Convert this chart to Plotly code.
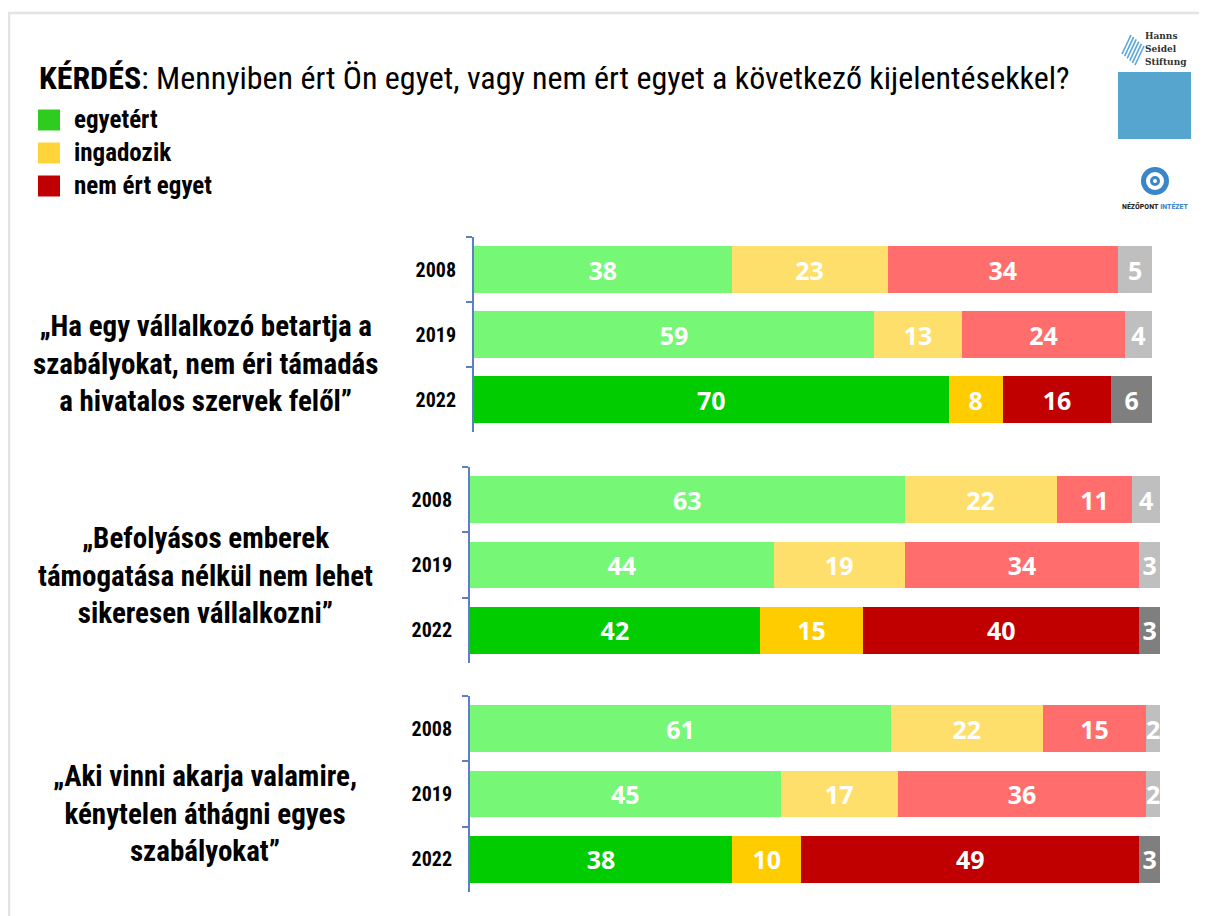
import plotly.graph_objects as go

# ---------------- data ----------------
years = ["2008", "2019", "2022"]
statements = [
    "„Ha egy vállalkozó betartja a<br>szabályokat, nem éri támadás<br>a hivatalos szervek felől”",
    "„Befolyásos emberek<br>támogatása nélkül nem lehet<br>sikeresen vállalkozni”",
    "„Aki vinni akarja valamire,<br>kénytelen áthágni egyes<br>szabályokat”",
]
agree = [[38, 59, 70], [63, 44, 42], [61, 45, 38]]
undecided = [[23, 13, 8], [22, 19, 15], [22, 17, 10]]
disagree = [[34, 24, 16], [11, 34, 40], [15, 36, 49]]
no_answer = [[5, 4, 6], [4, 3, 3], [2, 2, 3]]
legend_names = ["egyetért", "ingadozik", "nem ért egyet"]
title_bold = "KÉRDÉS"
title_rest = ": Mennyiben ért Ön egyet, vagy nem ért egyet a következő kijelentésekkel?"

# ---------------- styles ----------------
OFF = 8  # page body margin
W, H = 1207 - OFF, 916 - OFF
light = ["#76F776", "#FFDF6B", "#FF6D6D", "#BFBFBF"]
dark = ["#00CC00", "#FFCC00", "#C00000", "#7F7F7F"]
legend_colors = ["#2ECC1E", "#FFD43B", "#C00000"]
axis_blue = "#5B80C8"
NARROW = "Roboto Condensed, Liberation Sans Narrow, sans-serif"


def px(x):
    return (x - OFF) / W


def py(y):
    return 1 - (y - OFF) / H


# panel geometry in reference pixels: (x0, x1, y_top, y_bottom)
panels = [(474, 1152, 237, 432), (470, 1160, 467, 663), (470, 1160, 696, 892)]
text_centers = [364, 575, 813]

fig = go.Figure()
series = [agree, undecided, disagree, no_answer]
for p in range(3):
    axn = "" if p == 0 else str(p + 1)
    for s in range(4):
        vals = series[s][p]
        fig.add_trace(go.Bar(
            y=years, x=vals, orientation="h",
            xaxis="x" + axn, yaxis="y" + axn,
            marker=dict(color=[light[s], light[s], dark[s]], line=dict(width=0)),
            text=vals, textposition="inside", insidetextanchor="middle",
            textfont=dict(family="Open Sans", size=25, color="white", weight="bold"),
            showlegend=False, hoverinfo="skip",
        ))

layout = dict(
    width=W, height=H, barmode="stack", bargap=0.29,
    margin=dict(l=0, r=0, t=0, b=0),
    paper_bgcolor="white", plot_bgcolor="white",
    uniformtext=dict(minsize=25, mode="show"),
    showlegend=False,
)
for p, (x0, x1, yt, yb) in enumerate(panels):
    axn = "" if p == 0 else str(p + 1)
    layout["xaxis" + axn] = dict(domain=[px(x0), px(x1)], range=[0, 100], visible=False,
                                 anchor="y" + axn, fixedrange=True)
    layout["yaxis" + axn] = dict(
        domain=[py(yb), py(yt)], type="category", range=[2.5, -0.5],
        anchor="x" + axn, showline=True, linecolor=axis_blue, linewidth=2,
        ticks="outside", tickson="boundaries", ticklen=6, tickcolor=axis_blue, tickwidth=2,
        showgrid=False, zeroline=False,
        tickfont=dict(family=NARROW, size=20, color="black", weight="bold"),
        ticklabelstandoff=12,
    )
fig.update_layout(**layout)

annotations = []
shapes = []
# title
annotations.append(dict(
    x=px(37), y=py(78), xref="paper", yref="paper", xanchor="left", yanchor="middle",
    text="<b>" + title_bold + "</b>" + title_rest, showarrow=False,
    font=dict(family=NARROW, size=32, color="black"),
))
# legend
for i, (name, col) in enumerate(zip(legend_names, legend_colors)):
    yc = 120 + i * 33
    shapes.append(dict(type="rect", xref="paper", yref="paper",
                       x0=px(38), x1=px(60), y0=py(yc + 10.5), y1=py(yc - 10.5),
                       fillcolor=col, line=dict(width=0)))
    annotations.append(dict(x=px(72), y=py(yc), xref="paper", yref="paper",
                            xanchor="left", yanchor="middle", text="<b>" + name + "</b>",
                            showarrow=False, font=dict(family=NARROW, size=25, color="black")))
# statements
for p in range(3):
    annotations.append(dict(
        x=px(205), y=py(text_centers[p]), xref="paper", yref="paper",
        xanchor="center", yanchor="middle", align="center",
        text="<b>" + statements[p] + "</b>", showarrow=False,
        font=dict(family=NARROW, size=29, color="black"),
    ))

# slide frame
shapes.append(dict(type="line", xref="paper", yref="paper", x0=px(8), x1=px(1220),
                   y0=py(13), y1=py(13), line=dict(color="#E3E3E3", width=2.5)))
shapes.append(dict(type="line", xref="paper", yref="paper", x0=px(9), x1=px(9),
                   y0=py(13), y1=py(930), line=dict(color="#E3E3E3", width=2.5)))
# Hanns Seidel Stiftung logo
shapes.append(dict(type="rect", xref="paper", yref="paper", x0=px(1118), x1=px(1191),
                   y0=py(139), y1=py(72), fillcolor="#55A5CF", line=dict(width=0)))
for k in range(6):
    xs = 1122 + k * 2.6
    shapes.append(dict(type="line", xref="paper", yref="paper",
                       x0=px(xs), y0=py(54 + k * 2.2), x1=px(xs + 9), y1=py(35 + k * 2.2),
                       line=dict(color="#5AA7D6", width=1.6)))
annotations.append(dict(x=px(1143), y=py(48), xref="paper", yref="paper",
                        xanchor="left", yanchor="middle", align="left",
                        text="<b>Hanns<br>Seidel<br>Stiftung</b>", showarrow=False,
                        font=dict(family="DejaVu Serif Condensed, DejaVu Serif, serif", size=10,
                                  color="#333333")))
# Nézőpont logo
cx, cy = 1155, 181
shapes.append(dict(type="circle", xref="paper", yref="paper", x0=px(cx - 14), x1=px(cx + 14),
                   y0=py(cy + 14), y1=py(cy - 14), fillcolor="#3A86C8", line=dict(width=0)))
shapes.append(dict(type="circle", xref="paper", yref="paper", x0=px(cx - 9), x1=px(cx + 9),
                   y0=py(cy + 9), y1=py(cy - 9), fillcolor="white", line=dict(width=0)))
shapes.append(dict(type="circle", xref="paper", yref="paper", x0=px(cx - 5), x1=px(cx + 5),
                   y0=py(cy + 5), y1=py(cy - 5), fillcolor="#3A86C8", line=dict(width=0)))
shapes.append(dict(type="circle", xref="paper", yref="paper", x0=px(cx - 2), x1=px(cx + 2),
                   y0=py(cy + 2), y1=py(cy - 2), fillcolor="white", line=dict(width=0)))
annotations.append(dict(x=px(cx), y=py(206), xref="paper", yref="paper",
                        xanchor="center", yanchor="middle",
                        text="<b>NÉZŐPONT</b> <span style='color:#3A86C8'><b>INTÉZET</b></span>",
                        showarrow=False, font=dict(family=NARROW, size=8, color="#222222")))

fig.update_layout(annotations=annotations, shapes=shapes)
fig.write_html("out.html")
